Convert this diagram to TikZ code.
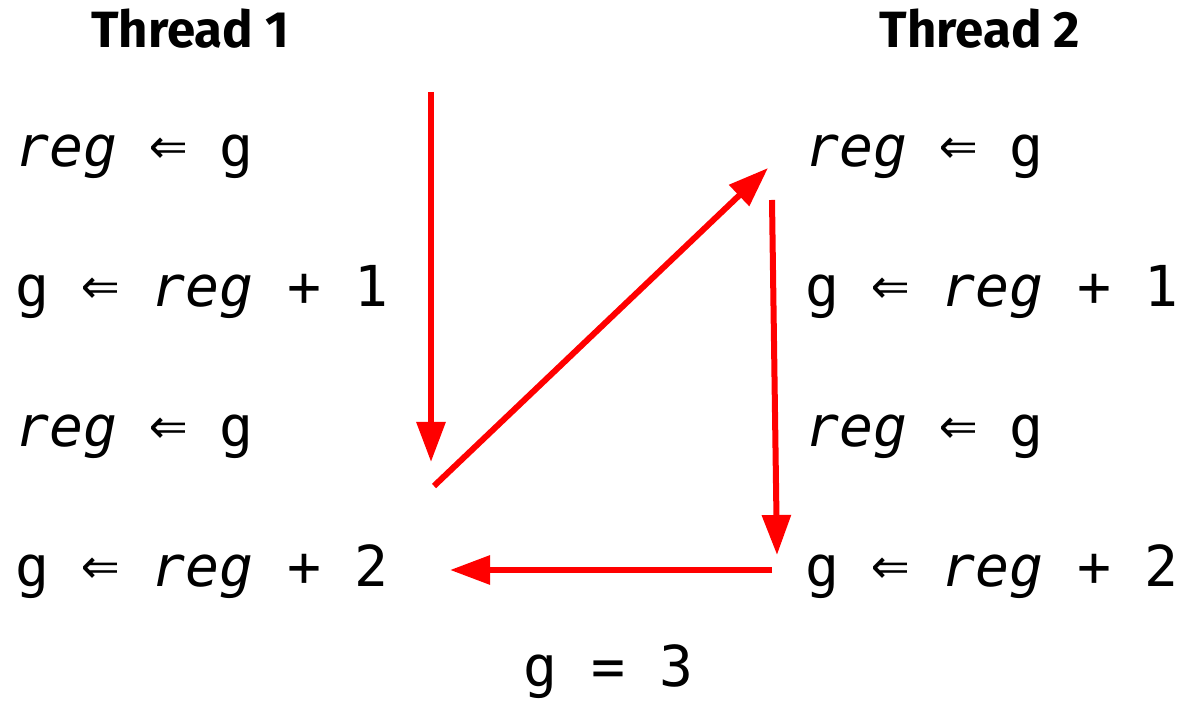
\documentclass[tikz,border=0pt]{standalone}
\usepackage{fontspec}
\usepackage{graphicx}
\setmonofont{DejaVu Sans Mono}
\newfontfamily\titlefont{Fira Sans}
\usetikzlibrary{arrows.meta}
\newcommand{\la}{\makebox[0.602em]{\raisebox{0.03em}{\scalebox{1.12}{⇐}}}}
\newcommand{\rg}{\textit{reg}}
\tikzset{
  code/.style={anchor=base west, inner sep=0pt, font=\ttfamily\fontsize{28.2}{34}\selectfont},
  title/.style={anchor=base, inner sep=0pt, font=\titlefont\bfseries\fontsize{25.5}{30}\selectfont},
  flow/.style={draw=red, line width=3pt, -{Triangle[length=20pt,width=14pt]}}
}
\begin{document}
\begin{tikzpicture}[x=0.5pt,y=-0.5pt]
\useasboundingbox (0,0) rectangle (1183,704);
\node[title] (t1) at (190,48) {Thread 1};
\node[title] (t2) at (980,48) {Thread 2};
\node[code] (a1) at (15,167) {\rg{} \la{} g};
\node[code] (a2) at (15,307) {g \la{} \rg{} + 1};
\node[code] (a3) at (15,447) {\rg{} \la{} g};
\node[code] (a4) at (15,587) {g \la{} \rg{} + 2};
\node[code] (b1) at (805,167) {\rg{} \la{} g};
\node[code] (b2) at (805,307) {g \la{} \rg{} + 1};
\node[code] (b3) at (805,447) {\rg{} \la{} g};
\node[code] (b4) at (805,587) {g \la{} \rg{} + 2};
\node[code] (res) at (523,687) {g = 3};
\coordinate (p0) at (431,92);
\coordinate (p1) at (431,462);
\coordinate (p2) at (434,486);
\coordinate (p3) at (768,168);
\coordinate (p4) at (772,200);
\coordinate (p5) at (777,555);
\coordinate (p6) at (772,570);
\coordinate (p7) at (450,570);
\draw[flow] (p0) -- (p1);
\draw[flow] (p2) -- (p3);
\draw[flow] (p4) -- (p5);
\draw[flow] (p6) -- (p7);
\end{tikzpicture}
\end{document}
